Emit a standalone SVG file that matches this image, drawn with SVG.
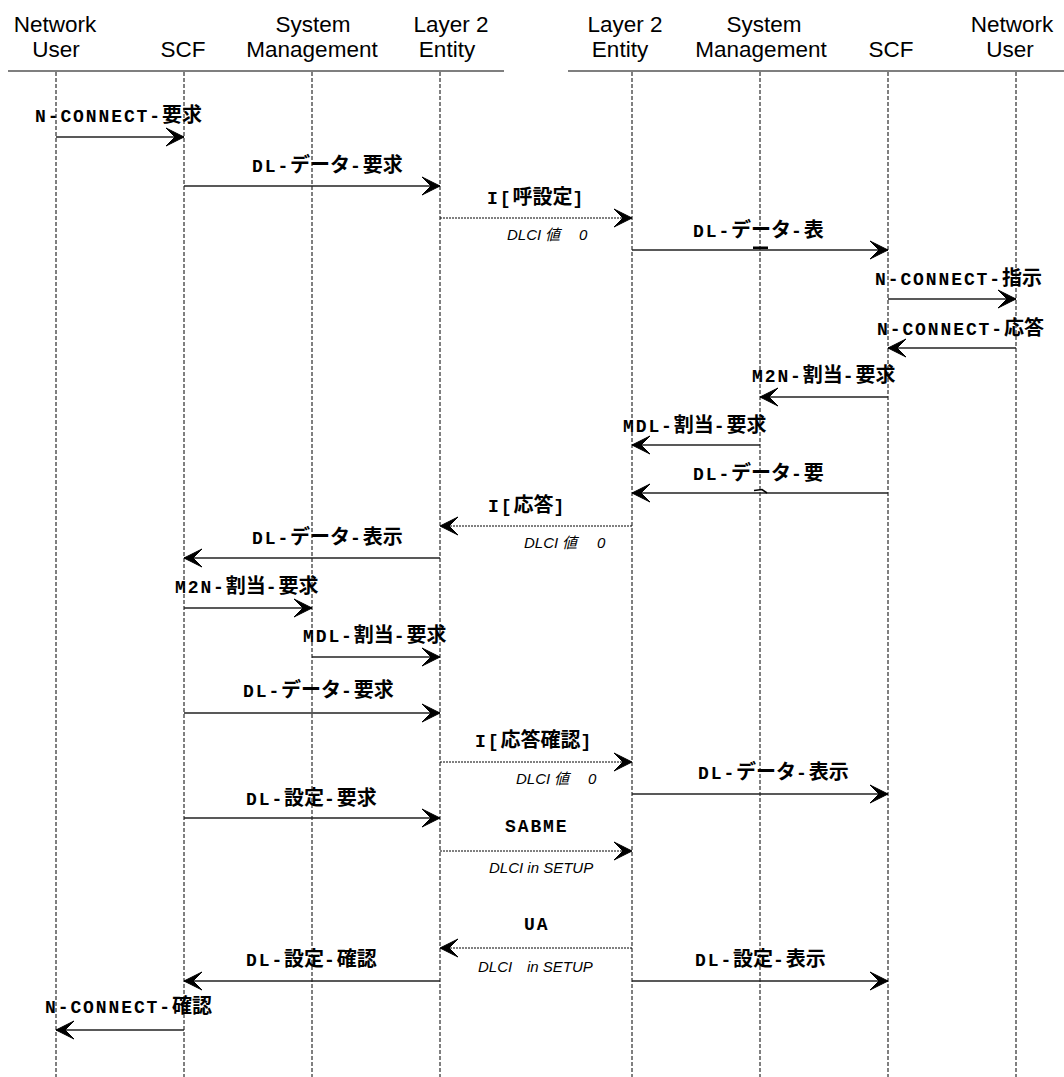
<svg xmlns="http://www.w3.org/2000/svg" width="1064" height="1077" viewBox="0 0 1064 1077">
  <style>
    .hdr { font-family: "Liberation Sans", Arial, sans-serif; font-size: 22.5px; fill: #000; text-anchor: middle; }
    .rule { stroke: #555; stroke-width: 1.6; fill: none; }
    .life { stroke: #000; stroke-width: 1; stroke-dasharray: 4 2; fill: none; }
    .msg { stroke: #222; stroke-width: 1.3; fill: none; marker-end: url(#head); }
    .frame { stroke: #000; stroke-width: 1; stroke-dasharray: 2 1; fill: none; marker-end: url(#head); }
    .lbl { font-weight: bold; fill: #000; }
    .a { font-family: "Liberation Mono", "Courier New", monospace; font-size: 18px; letter-spacing: 1.9px; }
    .j { font-family: "Noto Sans CJK JP", sans-serif; font-size: 20px; }
    .note { font-family: "Liberation Sans", "Noto Sans CJK JP", sans-serif; font-style: italic; font-size: 15px; fill: #000; }
  </style>
  <defs>
    <marker id="head" markerUnits="userSpaceOnUse" markerWidth="24" markerHeight="24" viewBox="-21 -12 24 24" refX="0" refY="0" orient="auto">
      <path d="M0,0 L-18,-9 L-9,0 L-18,9 Z" fill="#000" stroke="#000" stroke-width="1" stroke-linejoin="miter"/>
    </marker>
  </defs>

  <!-- header rules -->
  <line class="rule" x1="8" y1="71" x2="504" y2="71"/>
  <line class="rule" x1="568" y1="71" x2="1064" y2="71"/>

  <!-- participants: header label and dashed lifeline each -->
  <g id="network-user-left">
    <text class="hdr" x="55" y="32">Network</text>
    <text class="hdr" x="56" y="57">User</text>
    <line class="life" x1="56" y1="72" x2="56" y2="1077"/>
  </g>
  <g id="scf-left">
    <text class="hdr" x="183" y="57">SCF</text>
    <line class="life" x1="184" y1="72" x2="184" y2="1077"/>
  </g>
  <g id="system-management-left">
    <text class="hdr" x="313" y="32">System</text>
    <text class="hdr" x="312" y="57">Management</text>
    <line class="life" x1="312" y1="72" x2="312" y2="1077"/>
  </g>
  <g id="layer2-left">
    <text class="hdr" x="451" y="32">Layer 2</text>
    <text class="hdr" x="447" y="57">Entity</text>
    <line class="life" x1="440" y1="72" x2="440" y2="1077"/>
  </g>
  <g id="layer2-right">
    <text class="hdr" x="625" y="32">Layer 2</text>
    <text class="hdr" x="620" y="57">Entity</text>
    <line class="life" x1="632" y1="72" x2="632" y2="1077"/>
  </g>
  <g id="system-management-right">
    <text class="hdr" x="764" y="32">System</text>
    <text class="hdr" x="761" y="57">Management</text>
    <line class="life" x1="760" y1="72" x2="760" y2="1077"/>
  </g>
  <g id="scf-right">
    <text class="hdr" x="891" y="57">SCF</text>
    <line class="life" x1="888" y1="72" x2="888" y2="1077"/>
  </g>
  <g id="network-user-right">
    <text class="hdr" x="1012" y="32">Network</text>
    <text class="hdr" x="1010" y="57">User</text>
    <line class="life" x1="1016" y1="72" x2="1016" y2="1077"/>
  </g>

  <!-- messages -->
  <g id="connectors">
    <line class="msg" x1="56" y1="137" x2="184" y2="137"/>
    <line class="msg" x1="184" y1="186" x2="440" y2="186"/>
    <line class="frame" x1="440" y1="218" x2="632" y2="218"/>
    <line class="msg" x1="632" y1="250" x2="888" y2="250"/>
    <line class="msg" x1="888" y1="299" x2="1016" y2="299"/>
    <line class="msg" x1="1016" y1="348" x2="888" y2="348"/>
    <line class="msg" x1="888" y1="397" x2="760" y2="397"/>
    <line class="msg" x1="760" y1="445" x2="632" y2="445"/>
    <line class="msg" x1="888" y1="493" x2="632" y2="493"/>
    <line class="frame" x1="632" y1="526" x2="440" y2="526"/>
    <line class="msg" x1="440" y1="558" x2="184" y2="558"/>
    <line class="msg" x1="184" y1="608" x2="312" y2="608"/>
    <line class="msg" x1="312" y1="657" x2="440" y2="657"/>
    <line class="msg" x1="184" y1="713" x2="440" y2="713"/>
    <line class="frame" x1="440" y1="762" x2="632" y2="762"/>
    <line class="msg" x1="632" y1="794" x2="888" y2="794"/>
    <line class="msg" x1="184" y1="818" x2="440" y2="818"/>
    <line class="frame" x1="440" y1="851" x2="632" y2="851"/>
    <line class="frame" x1="632" y1="948" x2="440" y2="948"/>
    <line class="msg" x1="440" y1="981" x2="184" y2="981"/>
    <line class="msg" x1="632" y1="981" x2="888" y2="981"/>
    <line class="msg" x1="184" y1="1030" x2="56" y2="1030"/>
    <!-- stray strokes under two labels -->
    <rect x="753" y="246.5" width="15" height="2.5" fill="#000"/>
    <path d="M754,490.5 L762,489.5 L767,493" fill="none" stroke="#000" stroke-width="1.6"/>
  </g>

  <!-- message labels -->
  <g id="labels">
    <text class="lbl" x="35" y="122"><tspan class="a">N-CONNECT-</tspan><tspan class="j">要求</tspan></text>
    <text class="lbl" x="252" y="172"><tspan class="a">DL-</tspan><tspan class="j">データ</tspan><tspan class="a">-</tspan><tspan class="j">要求</tspan></text>
    <text class="lbl" x="487" y="204"><tspan class="a">I[</tspan><tspan class="j">呼設定</tspan><tspan class="a">]</tspan></text>
    <text class="lbl" x="693" y="237"><tspan class="a">DL-</tspan><tspan class="j">データ</tspan><tspan class="a">-</tspan><tspan class="j">表</tspan></text>
    <text class="lbl" x="875" y="285"><tspan class="a">N-CONNECT-</tspan><tspan class="j">指示</tspan></text>
    <text class="lbl" x="877" y="335"><tspan class="a">N-CONNECT-</tspan><tspan class="j">応答</tspan></text>
    <text class="lbl" x="752" y="382"><tspan class="a">M2N-</tspan><tspan class="j">割当</tspan><tspan class="a">-</tspan><tspan class="j">要求</tspan></text>
    <text class="lbl" x="623" y="432"><tspan class="a">MDL-</tspan><tspan class="j">割当</tspan><tspan class="a">-</tspan><tspan class="j">要求</tspan></text>
    <text class="lbl" x="693" y="480"><tspan class="a">DL-</tspan><tspan class="j">データ</tspan><tspan class="a">-</tspan><tspan class="j">要</tspan></text>
    <text class="lbl" x="488" y="512"><tspan class="a">I[</tspan><tspan class="j">応答</tspan><tspan class="a">]</tspan></text>
    <text class="lbl" x="252" y="544"><tspan class="a">DL-</tspan><tspan class="j">データ</tspan><tspan class="a">-</tspan><tspan class="j">表示</tspan></text>
    <text class="lbl" x="175" y="593"><tspan class="a">M2N-</tspan><tspan class="j">割当</tspan><tspan class="a">-</tspan><tspan class="j">要求</tspan></text>
    <text class="lbl" x="303" y="642"><tspan class="a">MDL-</tspan><tspan class="j">割当</tspan><tspan class="a">-</tspan><tspan class="j">要求</tspan></text>
    <text class="lbl" x="243" y="697"><tspan class="a">DL-</tspan><tspan class="j">データ</tspan><tspan class="a">-</tspan><tspan class="j">要求</tspan></text>
    <text class="lbl" x="475" y="747"><tspan class="a">I[</tspan><tspan class="j">応答確認</tspan><tspan class="a">]</tspan></text>
    <text class="lbl" x="698" y="779"><tspan class="a">DL-</tspan><tspan class="j">データ</tspan><tspan class="a">-</tspan><tspan class="j">表示</tspan></text>
    <text class="lbl" x="246" y="805"><tspan class="a">DL-</tspan><tspan class="j">設定</tspan><tspan class="a">-</tspan><tspan class="j">要求</tspan></text>
    <text class="lbl" x="505" y="832"><tspan class="a">SABME</tspan></text>
    <text class="lbl" x="524" y="930"><tspan class="a">UA</tspan></text>
    <text class="lbl" x="246" y="966"><tspan class="a">DL-</tspan><tspan class="j">設定</tspan><tspan class="a">-</tspan><tspan class="j">確認</tspan></text>
    <text class="lbl" x="695" y="966"><tspan class="a">DL-</tspan><tspan class="j">設定</tspan><tspan class="a">-</tspan><tspan class="j">表示</tspan></text>
    <text class="lbl" x="45" y="1013"><tspan class="a">N-CONNECT-</tspan><tspan class="j">確認</tspan></text>

    <!-- frame parameters under the dotted arrows -->
    <text class="note" y="240"><tspan x="507">DLCI</tspan><tspan x="545">値</tspan><tspan x="579">0</tspan></text>
    <text class="note" y="548"><tspan x="524">DLCI</tspan><tspan x="562">値</tspan><tspan x="597">0</tspan></text>
    <text class="note" y="784"><tspan x="516">DLCI</tspan><tspan x="554">値</tspan><tspan x="588">0</tspan></text>
    <text class="note" x="489" y="873">DLCI in SETUP</text>
    <text class="note" y="972"><tspan x="478">DLCI</tspan><tspan x="527">in SETUP</tspan></text>
  </g>
</svg>
